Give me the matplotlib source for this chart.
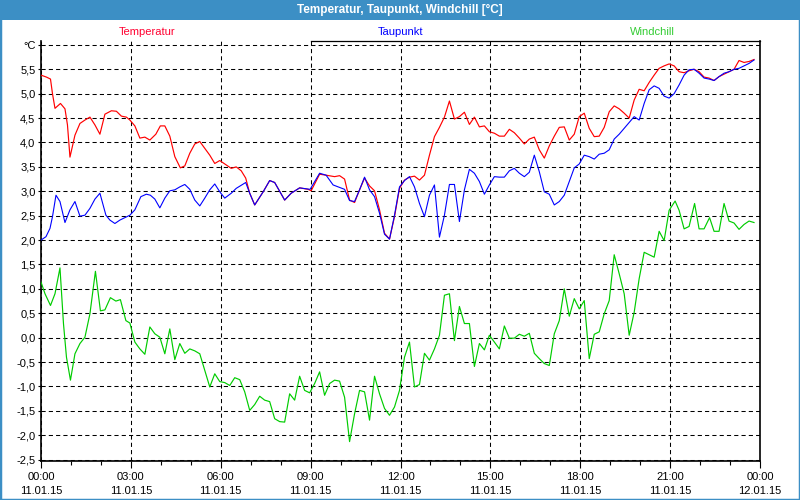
import matplotlib.pyplot as plt
from matplotlib.patches import Rectangle
from matplotlib.ticker import MultipleLocator, FuncFormatter

plt.rcParams['font.family'] = ['Liberation Sans', 'DejaVu Sans']

# Temperatur (Minuten seit 00:00, °C)
temp_min = [0, 11, 19, 23, 28, 39, 48, 53, 58, 68, 78, 88, 98, 108, 118, 128, 141, 151, 161, 171,
            178, 188, 198, 208, 218, 230, 239, 248, 258, 268, 279, 288, 298, 308, 318, 328, 338, 348, 358, 368,
            381, 391, 401, 410, 418, 428, 445, 458, 468, 488, 501, 518, 535, 541, 558, 571, 588, 598, 608, 618,
            628, 638, 648, 658, 668, 678, 688, 698, 708, 718, 728, 738, 748, 758, 768, 778, 788, 798, 808, 818,
            828, 838, 848, 858, 868, 878, 888, 898, 908, 918, 928, 938, 948, 958, 968, 978, 988, 998, 1008, 1018,
            1028, 1038, 1048, 1058, 1068, 1078, 1088, 1098, 1108, 1118, 1128, 1138, 1148, 1158, 1168, 1178, 1188, 1198, 1208, 1218,
            1228, 1238, 1248, 1258, 1268, 1278, 1288, 1298, 1308, 1318, 1328, 1338, 1348, 1358, 1368, 1378, 1388, 1398, 1408, 1418,
            1428]
temp_val = [5.38, 5.34, 5.30, 5.00, 4.70, 4.80, 4.69, 4.36, 3.70, 4.15, 4.39, 4.46, 4.52, 4.36, 4.17, 4.58, 4.65, 4.64, 4.54, 4.52,
            4.46, 4.34, 4.09, 4.11, 4.05, 4.17, 4.34, 4.34, 4.13, 3.71, 3.48, 3.52, 3.78, 3.97, 4.02, 3.88, 3.74, 3.57, 3.63, 3.56,
            3.47, 3.50, 3.42, 3.27, 2.96, 2.72, 2.99, 3.22, 3.18, 2.82, 2.96, 3.07, 3.04, 3.01, 3.35, 3.33, 3.30, 3.32, 3.25, 2.82,
            2.77, 3.03, 3.27, 3.11, 3.01, 2.62, 2.14, 2.02, 2.48, 3.06, 3.23, 3.29, 3.31, 3.23, 3.33, 3.74, 4.12, 4.31, 4.52, 4.85,
            4.48, 4.53, 4.62, 4.37, 4.52, 4.32, 4.34, 4.22, 4.19, 4.13, 4.13, 4.27, 4.20, 4.09, 3.97, 4.07, 4.11, 3.85, 3.68, 3.93,
            4.13, 4.31, 4.32, 4.05, 4.17, 4.53, 4.60, 4.29, 4.12, 4.13, 4.31, 4.63, 4.75, 4.69, 4.60, 4.50, 4.87, 5.09, 5.06, 5.23,
            5.38, 5.52, 5.57, 5.61, 5.57, 5.45, 5.43, 5.47, 5.50, 5.45, 5.34, 5.32, 5.27, 5.35, 5.40, 5.45, 5.50, 5.68, 5.64, 5.66,
            5.70]

# Taupunkt
dew_min = [0, 10, 18, 23, 30, 38, 48, 58, 68, 78, 88, 98, 108, 118, 130, 138, 148, 158, 168, 178,
           188, 200, 211, 219, 228, 238, 248, 258, 268, 278, 288, 298, 308, 318, 328, 338, 348, 358, 368, 381,
           391, 410, 418, 428, 445, 458, 468, 488, 501, 518, 539, 558, 571, 585, 598, 608, 618, 628, 638, 648,
           658, 668, 678, 688, 698, 708, 718, 728, 738, 748, 758, 768, 778, 788, 798, 808, 818, 828, 838, 848,
           858, 868, 878, 888, 898, 908, 918, 928, 938, 948, 958, 968, 978, 988, 998, 1008, 1018, 1028, 1038, 1048,
           1058, 1068, 1078, 1088, 1098, 1108, 1118, 1128, 1138, 1148, 1158, 1168, 1178, 1188, 1198, 1208, 1218, 1228, 1238, 1248,
           1258, 1268, 1278, 1288, 1298, 1308, 1318, 1328, 1338, 1348, 1358, 1368, 1378, 1388, 1398, 1408, 1418, 1428]
dew_val = [2.00, 2.07, 2.24, 2.48, 2.92, 2.79, 2.36, 2.62, 2.79, 2.49, 2.51, 2.65, 2.84, 2.96, 2.51, 2.41, 2.34, 2.41, 2.46, 2.51,
           2.62, 2.89, 2.94, 2.92, 2.84, 2.66, 2.86, 3.01, 3.03, 3.09, 3.14, 3.04, 2.82, 2.70, 2.86, 3.03, 3.15, 2.99, 2.86, 2.96,
           3.06, 3.18, 2.96, 2.72, 2.99, 3.22, 3.18, 2.82, 2.96, 3.07, 3.04, 3.37, 3.33, 3.13, 3.08, 3.04, 2.81, 2.79, 3.03, 3.29,
           3.03, 2.89, 2.55, 2.12, 2.02, 2.51, 3.09, 3.22, 3.30, 3.09, 2.75, 2.48, 2.92, 3.13, 2.06, 2.51, 3.14, 3.14, 2.38, 3.03,
           3.45, 3.37, 3.20, 2.94, 3.13, 3.30, 3.29, 3.29, 3.42, 3.47, 3.37, 3.30, 3.39, 3.74, 3.40, 2.99, 2.94, 2.72, 2.79, 2.92,
           3.20, 3.48, 3.56, 3.74, 3.71, 3.66, 3.76, 3.78, 3.85, 4.07, 4.17, 4.29, 4.41, 4.53, 4.46, 4.80, 5.08, 5.16, 5.11, 4.95,
           4.91, 5.00, 5.18, 5.38, 5.49, 5.50, 5.42, 5.32, 5.30, 5.27, 5.35, 5.42, 5.45, 5.50, 5.52, 5.57, 5.62, 5.69]

# Windchill
wc_min = [0, 8, 19, 28, 38, 45, 51, 59, 68, 78, 88, 98, 109, 119, 128, 139, 150, 159, 170, 178,
          188, 198, 208, 218, 228, 238, 248, 258, 268, 278, 288, 298, 308, 318, 328, 338, 348, 358, 368, 378,
          388, 398, 408, 418, 428, 438, 448, 458, 468, 478, 488, 498, 508, 518, 528, 538, 548, 558, 568, 578,
          588, 598, 608, 618, 628, 638, 648, 658, 668, 678, 688, 698, 708, 718, 728, 738, 748, 758, 768, 778,
          788, 798, 808, 818, 828, 838, 848, 858, 868, 878, 888, 898, 908, 918, 928, 938, 948, 958, 968, 978,
          988, 998, 1008, 1018, 1028, 1038, 1048, 1058, 1068, 1078, 1088, 1098, 1108, 1118, 1128, 1138, 1148, 1158, 1168, 1178,
          1188, 1198, 1208, 1218, 1228, 1238, 1248, 1258, 1270, 1278, 1288, 1298, 1309, 1318, 1328, 1339, 1348, 1358, 1368, 1378,
          1388, 1398, 1408, 1418, 1428]
wc_val = [1.14, 0.90, 0.66, 0.90, 1.43, 0.29, -0.40, -0.87, -0.33, -0.12, 0.01, 0.49, 1.36, 0.55, 0.57, 0.82, 0.75, 0.78, 0.35, 0.30,
          -0.09, -0.23, -0.34, 0.22, 0.08, 0.01, -0.33, 0.18, -0.45, -0.12, -0.32, -0.23, -0.27, -0.33, -0.67, -1.01, -0.74, -0.90, -0.92, -0.98,
          -0.82, -0.86, -1.11, -1.49, -1.37, -1.20, -1.28, -1.31, -1.66, -1.72, -1.73, -1.15, -1.28, -0.79, -1.08, -1.13, -0.94, -0.70, -1.18, -0.94,
          -0.87, -0.89, -1.22, -2.13, -1.56, -1.08, -1.11, -1.69, -0.79, -1.15, -1.45, -1.59, -1.42, -1.08, -0.40, -0.09, -1.01, -0.96, -0.32, -0.46,
          -0.23, 0.05, 0.87, 0.90, -0.06, 0.64, 0.29, 0.29, -0.59, -0.12, -0.25, 0.05, -0.09, -0.23, 0.24, -0.01, -0.01, 0.07, 0.03, 0.09,
          -0.32, -0.43, -0.53, -0.57, 0.08, 0.35, 1.00, 0.44, 0.80, 0.59, 0.76, -0.43, 0.07, 0.12, 0.49, 0.76, 1.70, 1.31, 0.90, 0.05,
          0.52, 1.21, 1.75, 1.70, 1.65, 2.18, 1.99, 2.61, 2.80, 2.61, 2.23, 2.28, 2.75, 2.23, 2.23, 2.46, 2.18, 2.18, 2.75, 2.39,
          2.35, 2.22, 2.32, 2.39, 2.36]

x_labels = ['00:00\n11.01.15', '03:00\n11.01.15', '06:00\n11.01.15', '09:00\n11.01.15', '12:00\n11.01.15',
            '15:00\n11.01.15', '18:00\n11.01.15', '21:00\n11.01.15', '00:00\n12.01.15']

title = 'Temperatur, Taupunkt, Windchill [°C]'
bar_blue = '#3c8fc5'

fig = plt.figure(figsize=(8, 5), dpi=100, facecolor='white')

# Fensterrahmen + Titelleiste
fig.patches.append(Rectangle((0, 0), 1, 1, transform=fig.transFigure, fill=False,
                             edgecolor=bar_blue, linewidth=2.5, zorder=0))
fig.patches.append(Rectangle((0, 1 - 20 / 500), 1, 20 / 500, transform=fig.transFigure,
                             facecolor=bar_blue, edgecolor='none', zorder=1))
fig.text(0.5, 1 - 10 / 500, title, color='white', fontsize=8.5, fontweight='bold',
         ha='center', va='center')

ax = fig.add_axes([41 / 800, 39 / 500, 719 / 800, 420.5 / 500])
ax.set_facecolor('white')

to_h = lambda m: [v / 60 for v in m]
ax.plot(to_h(wc_min), wc_val, color='#00cc00', lw=0.85, zorder=3)
ax.plot(to_h(temp_min), temp_val, color='#ff0000', lw=0.85, zorder=4)
ax.plot(to_h(dew_min), dew_val, color='#0000ff', lw=0.8, zorder=5)

ax.set_xlim(0, 24)
ax.set_ylim(-2.527, 6.09)

ax.set_xticks(range(0, 25, 3))
ax.set_xticklabels(x_labels, fontsize=8, linespacing=1.45)
ax.xaxis.set_minor_locator(MultipleLocator(1))
ax.set_yticks([i * 0.5 for i in range(-5, 13)])
ax.yaxis.set_major_formatter(FuncFormatter(
    lambda v, p: '°C' if v > 5.9 else f'{v:.1f}'.replace('.', ',')))
ax.tick_params(axis='y', labelsize=8, length=2, width=0.8, pad=2)
ax.tick_params(axis='x', which='major', length=5, width=0.8, pad=3)
ax.tick_params(axis='x', which='minor', length=3, width=0.8)

ax.grid(True, which='major', color='black', linestyle=(0, (4, 3)), linewidth=0.75)
for s in ['left', 'bottom', 'right']:
    ax.spines[s].set_linewidth(1.2)
ax.spines['top'].set_visible(False)
ax.plot([9, 24], [6.09, 6.09], color='black', lw=0.9, clip_on=False, zorder=6)

# Legende oben
fig.text(147 / 800, 1 - 32 / 500, 'Temperatur', color='#ff0030', fontsize=8, ha='center', va='center')
fig.text(400 / 800, 1 - 32 / 500, 'Taupunkt', color='#0000ff', fontsize=8, ha='center', va='center')
fig.text(652 / 800, 1 - 32 / 500, 'Windchill', color='#33cc33', fontsize=8, ha='center', va='center')

fig.savefig('out.png', dpi=100, facecolor=fig.get_facecolor())
